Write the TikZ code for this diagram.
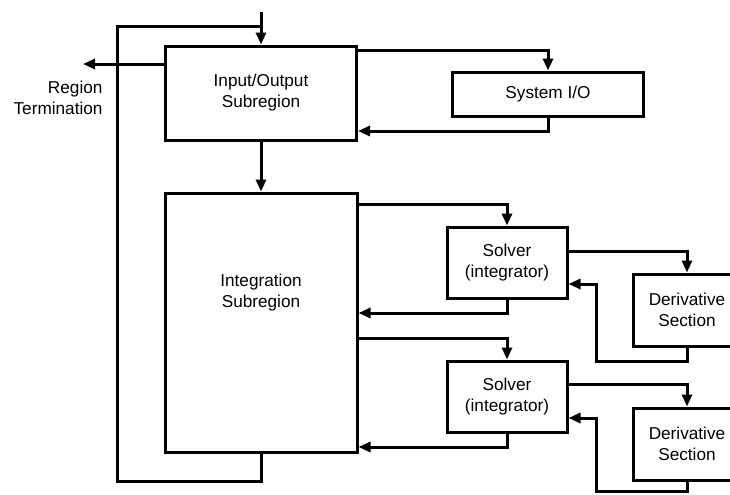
\documentclass[tikz,border=0pt]{standalone}
\usepackage{fontspec}
\setmainfont{Liberation Sans}
\usetikzlibrary{arrows.meta, positioning, calc}
\tikzset{
  every picture/.style={line width=1.5pt},
  box/.style={draw=black, fill=white, align=center, inner sep=0pt, minimum width=#1},
  box/.default=95.5pt,
  arrow/.style={-{Triangle[length=6pt, width=5pt]}, draw=black, line width=1.5pt},
  link/.style={draw=black, line width=1.5pt},
  note/.style={font=\fontsize{8.6}{10.5}\selectfont, align=center, inner sep=0pt},
}

\begin{document}
\begin{tikzpicture}[x=0.5pt, y=-0.5pt, every node/.append style={font=\fontsize{8.6}{10.5}\selectfont}]
  \useasboundingbox (0,0) rectangle (730,494);
  \clip (0,0) rectangle (730,494);
  % main subregions
  \node[box, minimum height=47pt] (io) at (261,93) {Input/Output\\Subregion};
  \node[box, minimum height=22pt] (sysio) at (548,94) {System I/O};
  \node[box=96pt, minimum height=129.5pt] (integ) at (261,322.5) {};
  \node[note] (integlbl) at (261,293) {Integration\\Subregion};
  % solvers and derivative sections
  \node[box=60pt, minimum height=35.5pt] (solvA) at (507,262.5) {Solver\\(integrator)};
  \node[box=60pt, minimum height=35.5pt] (solvB) at (507,396.5) {Solver\\(integrator)};
  \node[box=54pt, minimum height=36pt] (derA) at (687,310) {Derivative\\Section};
  \node[box=54pt, minimum height=36pt] (derB) at (687,444) {Derivative\\Section};
  \node[note, align=right, anchor=east] (term) at (104,98) {Region\\Termination};
  % loose ends
  \coordinate (entry) at (261,12);
  \coordinate (loop) at (117,26);
  \coordinate (exit) at (83,64);
  % top part
  \draw[arrow] (entry) -- (io.north);
  \draw[link] (integ.south) -- ++(0,28) -| (loop) -- (loop -| io.north);
  \draw[arrow] (io.west |- exit) -- (exit);
  \draw[arrow] (io.south) -- (integ.north);
  \draw[arrow] (io.east |- 0,50) -| (sysio.north);
  \draw[arrow] (sysio.south) |- (io.east |- 0,131);
  % integration to the solvers
  \draw[arrow] (integ.east |- 0,204) -| (solvA.north);
  \draw[arrow] (solvA.south) |- (integ.east |- 0,313);
  \draw[arrow] (integ.east |- 0,338) -| (solvB.north);
  \draw[arrow] (solvB.south) |- (integ.east |- 0,447);
  % solvers to the derivative sections
  \draw[arrow] (solvA.east |- 0,251) -| (derA.north);
  \draw[arrow] (derA.south) |- (596,361) |- (solvA.east |- 0,284);
  \draw[arrow] (solvB.east |- 0,384) -| (derB.north);
  \draw[arrow] (derB.south) |- (596,491) |- (solvB.east |- 0,418);
\end{tikzpicture}
\end{document}
